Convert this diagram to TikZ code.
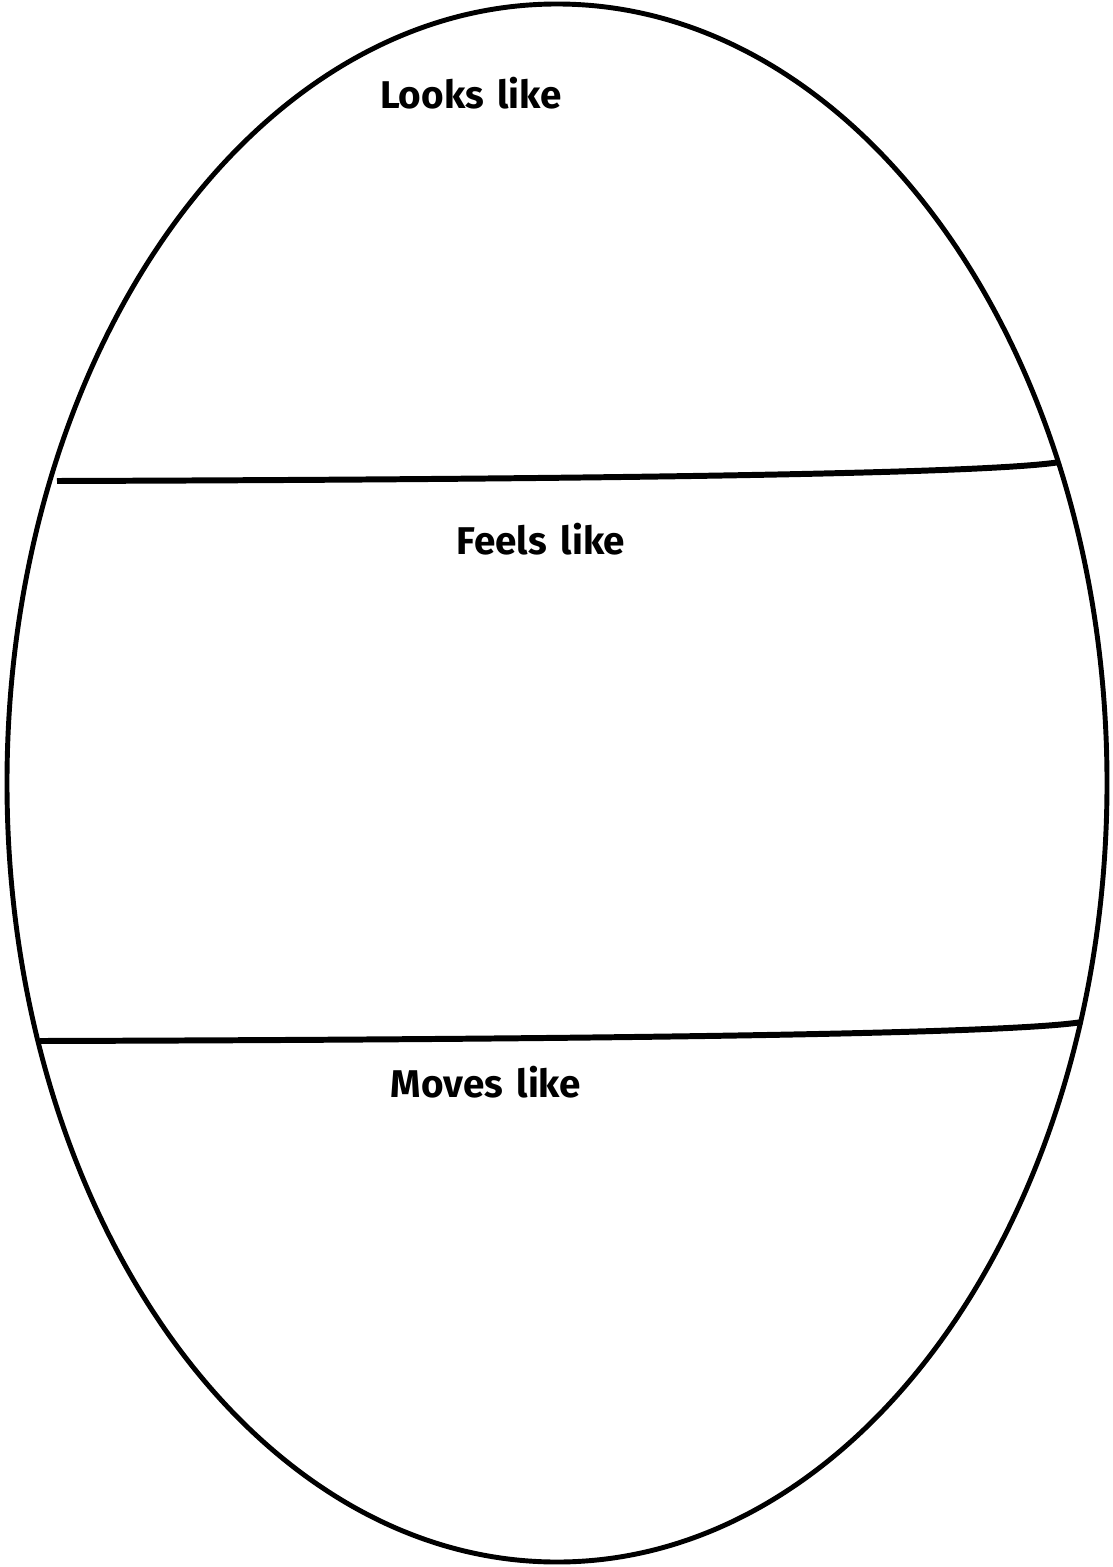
\documentclass[tikz,border=0pt]{standalone}
\usepackage{fontspec}
\setsansfont{Fira Sans}
\usetikzlibrary{positioning}

\begin{document}
\begin{tikzpicture}[
        x=0.02cm, y=-0.02cm,
        outline/.style={draw, line width=2.8pt},
        divider/.style={draw, line width=3.4pt},
        heading/.style={font=\sffamily\bfseries\fontsize{22}{25}\selectfont, inner sep=0pt},
    ]
        \useasboundingbox (0,0) rectangle (1112,1567);
        % egg outline
        \draw[outline] (557,783) ellipse [x radius=550, y radius=779];

        % section dividers
        \coordinate (d1l) at (57,481);
        \coordinate (d1r) at (1060,462);
        \coordinate (d2l) at (40,1041);
        \coordinate (d2r) at (1082,1022);
        \draw[divider] (d1l) .. controls (700,479) and (1000,472) .. (d1r);
        \draw[divider] (d2l) .. controls (720,1039) and (1020,1032) .. (d2r);

        \node[heading] (looks) at (471,93) {Looks\hspace{0.35em}like};
        \node[heading] (feels) at (541,539) {Feels\hspace{0.35em}like};
        \node[heading] (moves) at (486,1082) {Moves\hspace{0.35em}like};
    \end{tikzpicture}
\end{document}
